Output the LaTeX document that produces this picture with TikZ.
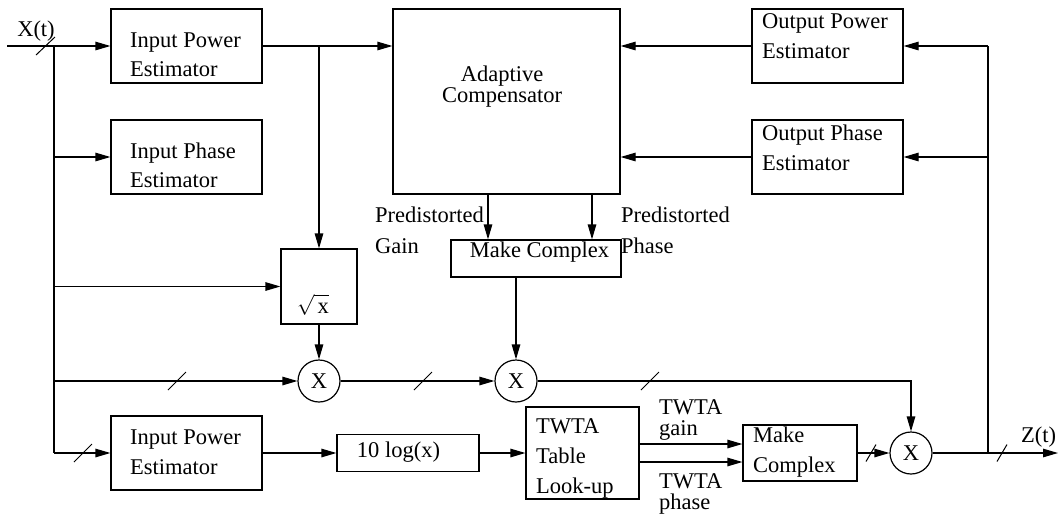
\documentclass[tikz,border=0pt]{standalone}
\usepackage{fontspec}
\setmainfont{Liberation Serif}
\usetikzlibrary{arrows.meta}
\begin{document}
\begin{tikzpicture}[x=1pt,y=-1pt,
  every node/.style={font=\fontsize{22.5}{29.5}\selectfont},
  box/.style={draw,line width=1.2pt,inner sep=0pt},
  txt/.style={inner sep=0pt,align=left,anchor=west},
  arr/.style={line width=1.2pt,-{Triangle[length=15pt,width=8.5pt]}},
  ln/.style={line width=1.2pt},
  mult/.style={draw,circle,line width=1.2pt,minimum size=42pt,inner sep=0pt},
  sl/.style={line width=1pt}]
\useasboundingbox (0,0) rectangle (1058,515);

% boxes
\node[box,minimum width=151pt,minimum height=74pt] (ipa) at (186.5,46) {};
\node[box,minimum width=151pt,minimum height=74pt] (iph) at (186.5,157) {};
\node[box,minimum width=227pt,minimum height=185pt] (ac) at (506.5,101.5) {};
\node[box,minimum width=151pt,minimum height=74pt] (opa) at (827.5,46) {};
\node[box,minimum width=151pt,minimum height=74pt] (oph) at (827.5,157) {};
\node[box,minimum width=76pt,minimum height=75pt] (sq) at (319,286.5) {};
\node[box,minimum width=170pt,minimum height=37pt] (mc1) at (536,258.5) {};
\node[box,minimum width=151pt,minimum height=74pt] (ipb) at (186.5,453) {};
\node[box,minimum width=142pt,minimum height=37pt] (lg) at (408,453) {};
\node[box,minimum width=113pt,minimum height=92pt] (tw) at (582.5,453) {};
\node[box,minimum width=114pt,minimum height=56pt] (mc2) at (800,453) {};
\node[mult] (c1) at (319,381) {X};
\node[mult] (c2) at (516,381) {X};
\node[mult] (c3) at (911,453) {X};

% texts
\node[txt] (tipa) at (130,54.5) {Input Power\\Estimator};
\node[txt] (tiph) at (130,165.5) {Input Phase\\Estimator};
\node[txt] (tipb) at (130,452) {Input Power\\Estimator};
\node[txt] (topa) at (762,36) {Output Power\\Estimator};
\node[txt] (toph) at (762,148) {Output Phase\\Estimator};
\node[inner sep=0pt,align=center,font=\fontsize{22.5}{19}\selectfont] (tac) at (502,86.5) {Adaptive\\Compensator};
\node[inner sep=0pt] (tmc1) at (539.5,252.5) {Make Complex};
\node[inner sep=0pt] (tsq) at (313,305) {$\sqrt{\vphantom{l}\,\mathrm{x}}$};
\node[inner sep=0pt] (tlg) at (398.5,452) {10 log(x)};
\node[txt,font=\fontsize{22.5}{30}\selectfont] (ttw) at (536,458) {TWTA\\Table\\Look-up};
\node[txt] (tmc2) at (753,452) {Make\\Complex};
\node[txt,font=\fontsize{22.5}{31}\selectfont] (tpl) at (375,230.5) {Predistorted\\Gain};
\node[txt,font=\fontsize{22.5}{31}\selectfont] (tpr) at (621,230.5) {Predistorted\\Phase};
\node[txt,font=\fontsize{22.5}{20.5}\selectfont] (ttg) at (659,420) {TWTA\\gain};
\node[txt,font=\fontsize{22.5}{20.5}\selectfont] (ttp) at (659,494) {TWTA\\phase};
\node[inner sep=0pt] (tx) at (36,31) {X(t)};
\node[txt] (tz) at (1021,437) {Z(t)};

% coordinates
\coordinate (in) at (7,46);
\coordinate (jl) at (54,46);
\coordinate (rt) at (988,453);
\coordinate (out) at (1058,453);

% connectors
\draw[arr] (in) -- (ipa.west);
\draw[ln] (jl) -- (jl |- ipb.west);
\draw[arr] (jl |- iph.west) -- (iph.west);
\draw[arr] (jl |- sq.west) -- (sq.west);
\draw[arr] (jl |- c1.west) -- (c1.west);
\draw[arr] (jl |- ipb.west) -- (ipb.west);
\draw[arr] (ipa.east) -- (ipa.east -| ac.west);
\draw[arr] (ipa.east -| sq.north) -- (sq.north);
\draw[arr] (sq.south) -- (c1.north);
\draw[arr] (c1.east) -- (c2.west);
\draw[arr] ([xshift=-18.5pt]ac.south) -- ([xshift=-18.5pt]ac.south |- mc1.north);
\draw[arr] ([xshift=85.5pt]ac.south) -- ([xshift=85.5pt]ac.south |- mc1.north);
\draw[arr] (c2.north |- mc1.south) -- (c2.north);
\draw[arr] (c2.east) -| (c3.north);
\draw[arr] (ipb.east) -- (ipb.east -| lg.west);
\draw[arr] (lg.east) -- (tw.west);
\draw[arr] ([yshift=9pt]tw.east) -- ([yshift=9pt]tw.east -| mc2.west);
\draw[arr] ([yshift=-9pt]tw.east) -- ([yshift=-9pt]tw.east -| mc2.west);
\draw[arr] (mc2.east) -- (c3.west);
\draw[arr] (c3.east) -- (out);
\draw[ln] (rt) -- (rt |- opa.east);
\draw[arr] (rt |- opa.east) -- (opa.east);
\draw[arr] (rt |- oph.east) -- (oph.east);
\draw[arr] (opa.west) -- (opa.west -| ac.east);
\draw[arr] (oph.west) -- (oph.west -| ac.east);

% bus slashes
\draw[sl] (45.5,46) +(-9.5,9) -- +(9.5,-9);
\draw[sl] (177,381) +(-9,9) -- +(9,-9);
\draw[sl] (423,381) +(-9,9) -- +(9,-9);
\draw[sl] (650,381) +(-9,9) -- +(9,-9);
\draw[sl] (83,453) +(-9,9) -- +(9,-9);
\draw[sl] (871,453) +(-5,8.5) -- +(5,-8.5);
\draw[sl] (1002,453) +(-5,8.5) -- +(5,-8.5);
\end{tikzpicture}
\end{document}
